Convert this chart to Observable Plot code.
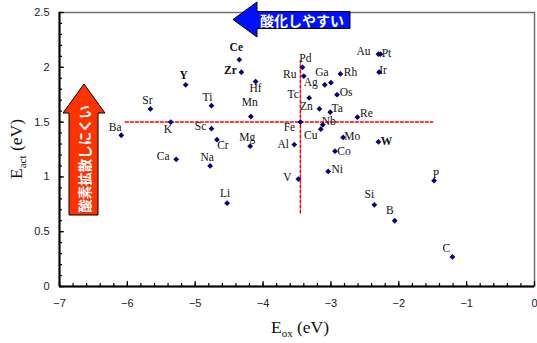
<!DOCTYPE html>
<html><head><meta charset="utf-8">
<script src="https://cdn.jsdelivr.net/npm/d3@7"></script>
<script src="https://cdn.jsdelivr.net/npm/@observablehq/plot@0.6"></script>
<style>
html,body{margin:0;padding:0;background:#fff;}
#chart{width:537px;height:343px;}
</style>
</head><body><div id="chart"></div>
<script>
// ---- data ----
const elements = ["Ba","Sr","Y","K","Ca","Ti","Sc","Cr","Na","Ce","Zr","Hf","Mn","Mg","Li","Pd","Ru","Ga","Ag","Rh","Tc","Os","Zn","Ta","Re","Nb","Cu","Fe","Al","Mo","W","Co","Ni","V","P","Si","B","C","Au","Pt","Ir"];
const eox  = [-6.09,-5.66,-5.14,-5.36,-5.28,-4.76,-4.76,-4.68,-4.78,-4.35,-4.32,-4.11,-4.18,-4.19,-4.53,-3.42,-3.40,-3.00,-3.09,-2.86,-3.32,-2.91,-3.17,-3.01,-2.61,-3.12,-3.15,-3.45,-3.54,-2.82,-2.30,-2.94,-3.04,-3.48,-1.48,-2.36,-2.06,-1.21,-2.30,-2.27,-2.29];
const eact = [1.38,1.62,1.84,1.50,1.16,1.65,1.44,1.34,1.10,2.07,1.955,1.87,1.55,1.28,0.76,2.00,1.92,1.86,1.84,1.94,1.72,1.75,1.62,1.59,1.545,1.475,1.435,1.50,1.295,1.36,1.32,1.235,1.05,0.98,0.965,0.745,0.60,0.27,2.12,2.12,1.955];
const boldElements = ["Ce","Zr","Y","W"];
const xTicks = [-7,-6,-5,-4,-3,-2,-1,0];
const yTicks = [0,0.5,1,1.5,2,2.5];
const xMinor = d3.range(-7, 0.001, 0.2);
const yMinor = d3.range(0, 2.5001, 0.1);
const eactThreshold = [1.5];
const eoxThreshold = [-3.45];
const hLineExtent = [-6.03, -1.5];
const vLineExtent = [0.67, 2.06];
const arrowTop = "酸化しやすい";
const arrowLeft = "酸素拡散しにくい";

// label offsets (px) relative to each dot
const labelOffset = {
  Ba:[-6,-8], Sr:[-3,-9], Y:[-2,-10], K:[-3,7], Ca:[-13,-3], Ti:[-4,-8], Sc:[-11,-2], Cr:[6,6],
  Na:[-3,-9], Ce:[-3,-12], Zr:[-11,-2], Hf:[0,7], Mn:[-1,-14], Mg:[-3,-9], Li:[-2,-10],
  Pd:[3,-9], Ru:[-14,-2], Ga:[-9,-10], Ag:[-14,-3], Rh:[10,-2], Tc:[-16,-4], Os:[9,-2],
  Zn:[-13,-3], Ta:[7,-4], Re:[9,-4], Nb:[6,-4], Cu:[-10,6], Fe:[-11,5], Al:[-11,0],
  Mo:[9,-1], W:[8,-1], Co:[9,0], Ni:[9,-2], V:[-11,-2], P:[2,-6], Si:[-5,-11], B:[-5,-10],
  C:[-6,-9], Au:[-15,-3], Pt:[6,-1], Ir:[4,-2]
};

const pts = elements.map((e,i) => ({el:e, x:eox[i], y:eact[i], bold: boldElements.includes(e)}));
const hLine = hLineExtent.map(x => ({x, y: eactThreshold[0]}));
const vLine = vLineExtent.map(y => ({x: eoxThreshold[0], y}));

const minus = d => d === 0 ? "0" : (d < 0 ? "\u2212" + Math.abs(d) : String(d));
const serif = "Liberation Serif, Times New Roman, serif";

const labelMarks = pts.map(d => {
  const o = labelOffset[d.el] || [0,-9];
  return Plot.text([d], {x: "x", y: "y", text: "el", dx: o[0], dy: o[1],
    fontFamily: serif, fontSize: 11.5, fontWeight: d.bold ? "bold" : "normal", fill: "#111"});
});

const chart = Plot.plot({
  width: 537, height: 343,
  marginLeft: 59, marginRight: 3, marginTop: 12, marginBottom: 57,
  style: {fontFamily: "Liberation Sans, Arial, sans-serif", background: "#fff"},
  x: {domain: [-7, 0]},
  y: {domain: [0, 2.5]},
  marks: [
    Plot.frame({stroke: "#707070", strokeWidth: 1.5}),
    Plot.axisX({ticks: xMinor, tickSize: -3, tickFormat: () => "", label: null, stroke: "#000", strokeWidth: 1.2}),
    Plot.axisY({ticks: yMinor, tickSize: -3, tickFormat: () => "", label: null, stroke: "#000", strokeWidth: 1.2}),
    Plot.axisX({ticks: xTicks, tickSize: -5, tickPadding: 18, tickFormat: minus, label: null, fontSize: 11, fill: "#222", stroke: "#000", strokeWidth: 1.2}),
    Plot.axisY({ticks: yTicks, tickSize: -5, tickPadding: 15, tickFormat: d => String(d), label: null, fontSize: 11, fill: "#222", stroke: "#000", strokeWidth: 1.2}),
    Plot.ruleY([0], {stroke: "#000", strokeWidth: 2}),
    Plot.ruleX([-7], {stroke: "#000", strokeWidth: 2}),
    Plot.line(hLine, {x: "x", y: "y", stroke: "#ff0000", strokeWidth: 1.5, strokeDasharray: "3,2"}),
    Plot.line(vLine, {x: "x", y: "y", stroke: "#ff0000", strokeWidth: 1.5, strokeDasharray: "3,2"}),
    Plot.dot(pts, {x: "x", y: "y", symbol: "diamond2", r: 2.6, fill: "#00007f", stroke: "none"}),
    ...labelMarks
  ]
});

document.getElementById("chart").appendChild(chart);
const svg = d3.select(chart);

// axis titles
const xt = svg.append("text").attr("x", 300).attr("y", 333).attr("text-anchor", "middle")
  .attr("font-family", serif).attr("font-size", 17.5).attr("fill", "#111");
xt.append("tspan").text("E");
xt.append("tspan").attr("font-size", 11).attr("dy", 4).text("ox");
xt.append("tspan").attr("dy", -4).text(" (eV)");

const yt = svg.append("text").attr("transform", "translate(22,149) rotate(-90)").attr("text-anchor", "middle")
  .attr("font-family", serif).attr("font-size", 17.5).attr("fill", "#111");
yt.append("tspan").text("E");
yt.append("tspan").attr("font-size", 11).attr("dy", 4).text("act");
yt.append("tspan").attr("dy", -4).text(" (eV)");

// annotation arrows
const jp = "Noto Sans CJK JP, sans-serif";
svg.append("polygon")
  .attr("points", "233,19.5 257,2 257,11.5 350,11.5 350,28.5 257,28.5 257,37")
  .attr("fill", "#0010ff").attr("stroke", "#000").attr("stroke-width", 1);
svg.append("text").attr("x", 302).attr("y", 20).attr("text-anchor", "middle").attr("dominant-baseline", "central")
  .attr("font-family", jp).attr("font-weight", "bold").attr("font-size", 14).attr("fill", "#fff").text(arrowTop);

svg.append("polygon")
  .attr("points", "84,84 105,113 98,113 98,215 69,215 69,113 63,113")
  .attr("fill", "#ff3300").attr("stroke", "#000").attr("stroke-width", 1);
svg.append("text").attr("transform", "translate(84,159) rotate(-90)").attr("text-anchor", "middle").attr("dominant-baseline", "central")
  .attr("font-family", jp).attr("font-weight", "bold").attr("font-size", 13.5).attr("fill", "#fff").text(arrowLeft);
</script>
</body></html>
